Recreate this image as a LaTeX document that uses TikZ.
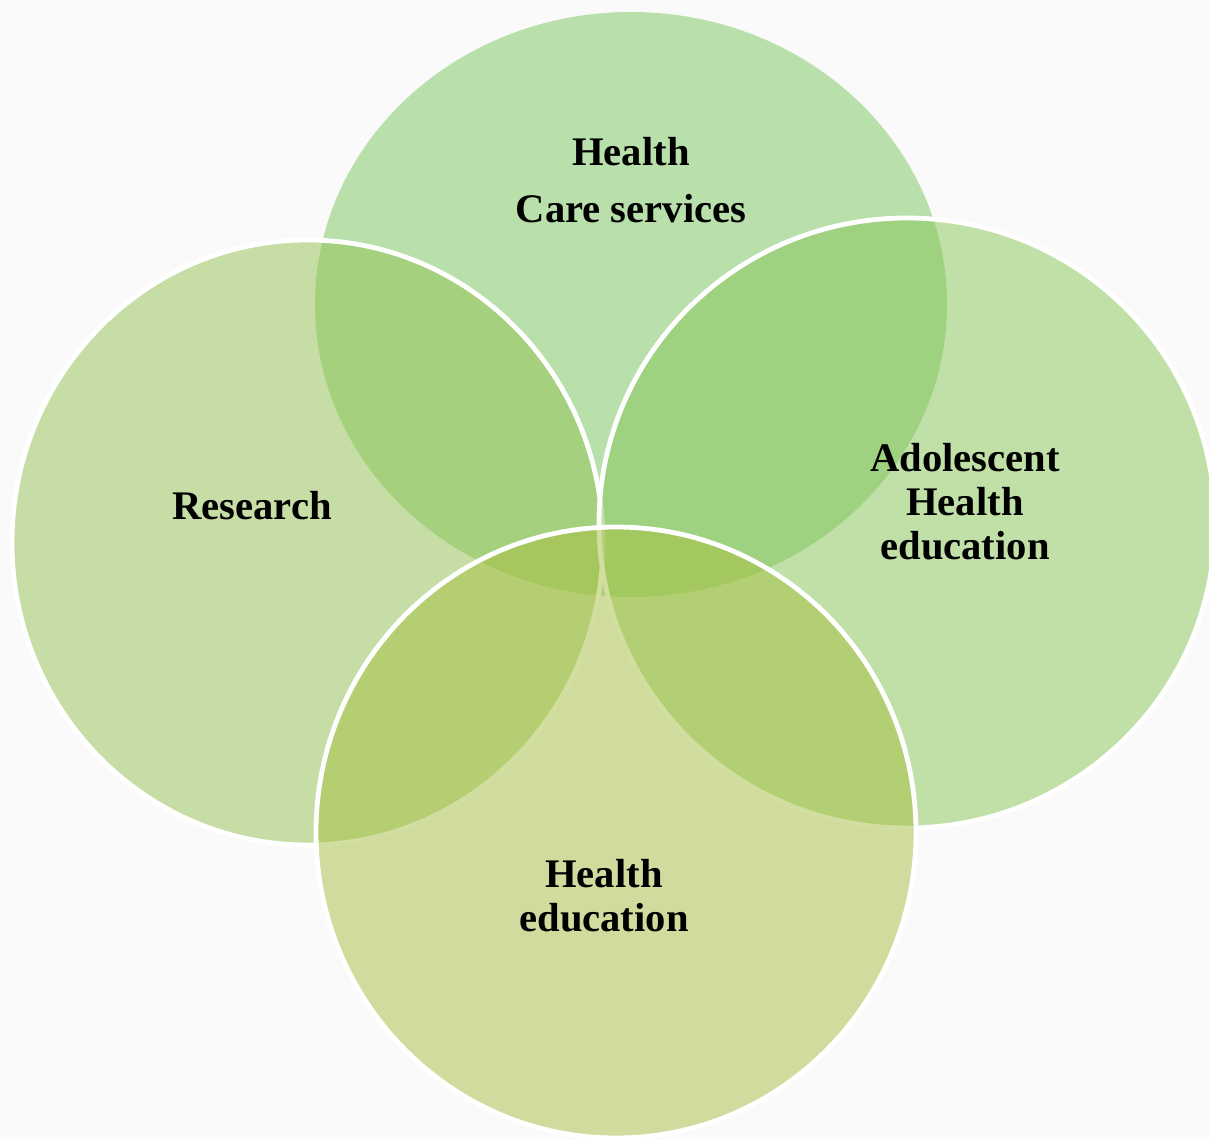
\documentclass[tikz,border=0pt]{standalone}
\usepackage{fontspec}
\setmainfont{Liberation Serif}
\begin{document}
\begin{tikzpicture}[x=0.5pt,y=-0.5pt,
  venn/.style={fill opacity=0.5, line width=2.4pt},
  lbl/.style={font=\bfseries\fontsize{20.3}{22}\selectfont, align=center, text=black, inner sep=0pt}]
\definecolor{bgc}{RGB}{250,250,250}
\definecolor{ctop}{RGB}{121,197,93}
\definecolor{cleft}{RGB}{147,195,81}
\definecolor{cright}{RGB}{135,199,87}
\definecolor{cbot}{RGB}{167,191,65}
\fill[bgc] (0,0) rectangle (1209,1139);
\useasboundingbox (0,0) rectangle (1209,1139);
% top
\path[venn, fill=ctop, draw=none] (631,304.5) ellipse [x radius=316, y radius=292.5];
% left
\draw[venn, fill=cleft, draw=white] (307.5,542.5) ellipse [x radius=295.5, y radius=302.5];
% right
\draw[venn, fill=cright, draw=white] (907,523) ellipse [x radius=308, y radius=305];
% bottom
\draw[venn, fill=cbot, draw=white] (616,832.5) ellipse [x radius=300, y radius=305.5];
\node[lbl] (t1) at (631,152) {Health};
\node[lbl] (t2) at (631,209) {Care services};
\node[lbl] (r) at (252,506) {Research};
\node[lbl] (a) at (965,502) {Adolescent\\Health\\education};
\node[lbl] (h) at (604,896) {Health\\education};
\end{tikzpicture}
\end{document}
